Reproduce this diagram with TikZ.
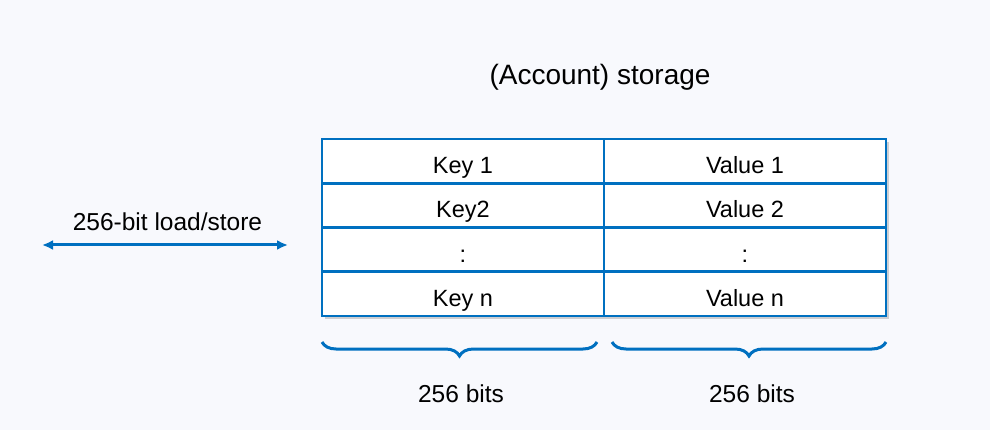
\documentclass[tikz,border=0pt]{standalone}
\usepackage{fontspec}
\setmainfont{Liberation Sans}
\usetikzlibrary{arrows.meta,positioning,decorations.pathreplacing,shadows,backgrounds,fit}
\definecolor{tblue}{RGB}{0,112,192}
\definecolor{bgc}{RGB}{248,249,253}
\tikzset{
  cell/.style = {draw=tblue, fill=white, line width=2.8pt, rectangle, minimum width=282pt, minimum height=44.25pt, outer sep=0pt, inner sep=0pt, text height=25pt, text depth=0pt, font=\fontsize{23.5}{28}\selectfont},
  lbl/.style = {font=\fontsize{24.5}{29}\selectfont},
  arrow/.style = {draw=tblue, line width=3pt, {Latex[length=11pt,width=10pt]}-{Latex[length=11pt,width=10pt]}},
  brc/.style = {draw=tblue, line width=3pt, decorate, decoration={brace, mirror, amplitude=14pt}}
}
\begin{document}
\begin{tikzpicture}[x=1pt, y=1pt]
            \begin{scope}[on background layer]
              \fill[bgc] (0,0) rectangle (990,-430);
            \end{scope}
            \useasboundingbox (0,0) rectangle (990,-430);
            \node[lbl, font=\fontsize{28}{33}\selectfont] (title) at (600,-77) {(Account) storage};
            \node[cell] (k1) at (463,-161.1) {Key 1};
            \node[cell, right=0pt of k1] (v1) {Value 1};
            \node[cell, below=0pt of k1] (k2) {Key2};
            \node[cell, right=0pt of k2] (v2) {Value 2};
            \node[cell, below=0pt of k2] (k3) {:};
            \node[cell, right=0pt of k3] (v3) {:};
            \node[cell, below=0pt of k3] (kn) {Key n};
            \node[cell, right=0pt of kn] (vn) {Value n};
            \begin{scope}[on background layer]
              \node[fit=(k1)(vn), inner sep=0pt, fill=white, drop shadow={shadow xshift=3pt, shadow yshift=-3pt, opacity=0.35}] (tbl) {};
            \end{scope}
            \coordinate (ll) at (42,-245);
            \coordinate (lr) at (288,-245);
            \draw[arrow] (ll) -- (lr);
            \node[lbl] (ls) at (167.5,-222) {256-bit load/store};
            \coordinate (b1l) at (322,-342);
            \coordinate (b1r) at (597,-342);
            \coordinate (b2l) at (612,-342);
            \coordinate (b2r) at (886,-342);
            \draw[brc] (b1l) -- (b1r);
            \draw[brc] (b2l) -- (b2r);
            \node[lbl] (w1) at (461,-394) {256 bits};
            \node[lbl] (w2) at (752,-394) {256 bits};
        \end{tikzpicture}
\end{document}
